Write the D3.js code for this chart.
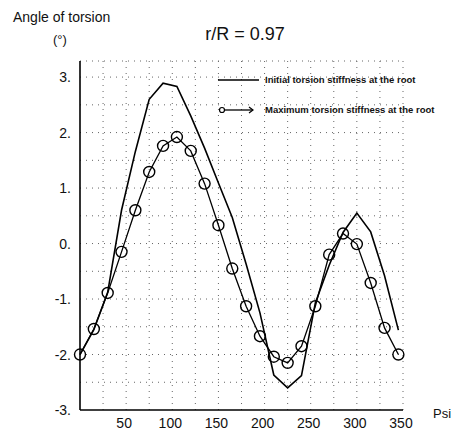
<!DOCTYPE html>
<html>
<head>
<meta charset="utf-8">
<script src="https://cdn.jsdelivr.net/npm/d3@7"></script>
<style>
    body { margin: 0; background: #fff; }
    text { font-family: "Liberation Sans", Arial, sans-serif; fill: #111; }
</style>
</head>
<body>
<script>
// torsion angle vs azimuth, r/R = 0.97

var psi = [0, 15, 30, 45, 60, 75, 90, 105, 120, 135, 150, 165, 180, 195, 210, 225, 240, 255, 270, 285, 300, 315, 330, 345];
var initial_stiffness = [-2.0, -1.55, -0.88, 0.6, 1.66, 2.6, 2.89, 2.83, 2.3, 1.72, 1.09, 0.47, -0.37, -1.25, -2.37, -2.6, -2.38, -1.07, -0.39, 0.2, 0.55, 0.21, -0.58, -1.56];
var max_stiffness = [-2.0, -1.54, -0.89, -0.15, 0.6, 1.29, 1.76, 1.92, 1.67, 1.08, 0.33, -0.45, -1.13, -1.67, -2.04, -2.15, -1.85, -1.13, -0.2, 0.18, -0.01, -0.71, -1.52, -2.0];
var y_ticks = [3, 2, 1, 0, -1, -2, -3];
var x_ticks = [50, 100, 150, 200, 250, 300, 350];
var legend_labels = ["Initial torsion stiffness at the root", "Maximum torsion stiffness at the root"];

var width = 476, height = 433;

var svg = d3.select("body").append("svg")
    .attr("width", width)
    .attr("height", height);

var x = d3.scaleLinear().domain([0, 350]).range([80, 403]);
var y = d3.scaleLinear().domain([-3, 3.29]).range([410, 61]);

// ====== GRID ======
var grid_x = d3.range(0, 351, 25);
var grid_y = d3.range(-2.5, 3.01, 0.5);

svg.selectAll(".vgrid")
    .data(grid_x.slice(1))
    .enter().append("line")
        .attr("class", "vgrid")
        .attr("x1", function(d) { return x(d) })
        .attr("x2", function(d) { return x(d) })
        .attr("y1", y(3.29))
        .attr("y2", y(-3))
        .style("stroke", "#666")
        .style("stroke-width", 1)
        .style("stroke-dasharray", "1,5");

svg.selectAll(".hgrid")
    .data(grid_y.concat([3.29]))
    .enter().append("line")
        .attr("class", "hgrid")
        .attr("x1", x(0))
        .attr("x2", x(350))
        .attr("y1", function(d) { return y(d) })
        .attr("y2", function(d) { return y(d) })
        .style("stroke", "#666")
        .style("stroke-width", 1)
        .style("stroke-dasharray", "1,5");

// ====== AXES ======
svg.append("line")
    .attr("x1", x(0)).attr("x2", x(0))
    .attr("y1", y(3.29)).attr("y2", y(-3))
    .style("stroke", "#000").style("stroke-width", 1.6);

svg.append("line")
    .attr("x1", x(0)).attr("x2", x(350))
    .attr("y1", y(-3)).attr("y2", y(-3))
    .style("stroke", "#000").style("stroke-width", 1.4);

svg.selectAll(".ylab")
    .data(y_ticks)
    .enter().append("text")
        .attr("class", "ylab")
        .attr("x", 71)
        .attr("y", function(d) { return y(d) + 5 })
        .attr("text-anchor", "end")
        .style("font-size", "14px")
        .text(function(d) { return d + "." });

svg.selectAll(".xlab")
    .data(x_ticks)
    .enter().append("text")
        .attr("class", "xlab")
        .attr("x", function(d) { return x(d) - 2 })
        .attr("y", 428)
        .attr("text-anchor", "middle")
        .style("font-size", "14px")
        .text(function(d) { return d });

svg.append("text")
    .attr("x", 433).attr("y", 418)
    .style("font-size", "13px")
    .text("Psi");

svg.append("text")
    .attr("x", 13).attr("y", 22)
    .style("font-size", "14px")
    .text("Angle of torsion");

svg.append("text")
    .attr("x", 53).attr("y", 44)
    .style("font-size", "13px")
    .text("(°)");

svg.append("text")
    .attr("x", 245).attr("y", 40)
    .attr("text-anchor", "middle")
    .style("font-size", "18px")
    .text("r/R = 0.97");

// ====== LINES ======
var line_gen = d3.line()
    .x(function(d, i) { return x(psi[i]) })
    .y(function(d) { return y(d) });

svg.append("path")
    .datum(initial_stiffness)
    .attr("d", line_gen)
    .style("fill", "none")
    .style("stroke", "#000")
    .style("stroke-width", 1.6);

svg.append("path")
    .datum(max_stiffness)
    .attr("d", line_gen)
    .style("fill", "none")
    .style("stroke", "#000")
    .style("stroke-width", 1.3);

svg.selectAll(".marker")
    .data(max_stiffness)
    .enter().append("circle")
        .attr("class", "marker")
        .attr("cx", function(d, i) { return x(psi[i]) })
        .attr("cy", function(d) { return y(d) })
        .attr("r", 5.5)
        .style("fill", "none")
        .style("stroke", "#000")
        .style("stroke-width", 1.4);

// ====== LEGEND ======
svg.append("line")
    .attr("x1", 218).attr("x2", 259)
    .attr("y1", 80).attr("y2", 80)
    .style("stroke", "#000").style("stroke-width", 1.3);

svg.append("circle")
    .attr("cx", 222).attr("cy", 110).attr("r", 2.5)
    .style("fill", "none").style("stroke", "#000").style("stroke-width", 1.2);

svg.append("line")
    .attr("x1", 224).attr("x2", 253)
    .attr("y1", 110).attr("y2", 110)
    .style("stroke", "#000").style("stroke-width", 1.3);

svg.append("path")
    .attr("d", "M249,107 L253,110 L249,113")
    .style("fill", "none").style("stroke", "#000").style("stroke-width", 1.2);

svg.selectAll(".legtext")
    .data(legend_labels)
    .enter().append("text")
        .attr("class", "legtext")
        .attr("x", 265)
        .attr("y", function(d, i) { return 83 + i * 30 })
        .style("font-size", "9.5px")
        .style("font-weight", "bold")
        .text(function(d) { return d });
</script>
</body>
</html>
